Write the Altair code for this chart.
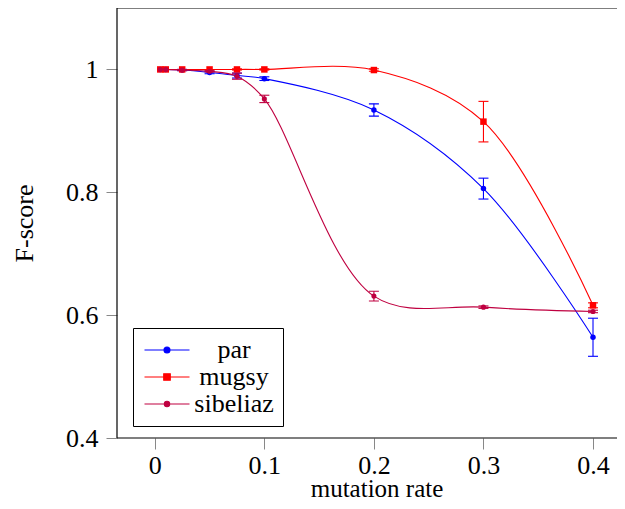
import altair as alt
import pandas as pd

# ---- data ----
rates = [0.005, 0.01, 0.025, 0.05, 0.075, 0.1, 0.2, 0.3, 0.4]
series = ["par", "mugsy", "sibeliaz"]
colors = ["#0000ff", "#ff0000", "#bf0040"]
par = [1.000, 1.000, 0.999, 0.995, 0.990, 0.985, 0.934, 0.806, 0.564]
par_err = [0.0, 0.0, 0.001, 0.002, 0.004, 0.003, 0.010, 0.017, 0.031]
mugsy = [1.000, 1.000, 1.000, 1.000, 1.000, 1.000, 0.999, 0.915, 0.616]
mugsy_err = [0.0, 0.0, 0.0, 0.0, 0.001, 0.001, 0.002, 0.033, 0.004]
sibeliaz = [1.000, 1.000, 0.999, 0.997, 0.989, 0.952, 0.631, 0.613, 0.606]
sibeliaz_err = [0.0, 0.0, 0.001, 0.001, 0.005, 0.006, 0.008, 0.002, 0.002]

values = {"par": par, "mugsy": mugsy, "sibeliaz": sibeliaz}
errors = {"par": par_err, "mugsy": mugsy_err, "sibeliaz": sibeliaz_err}
shapes = {"par": "circle", "mugsy": "square", "sibeliaz": "circle"}
sizes = {"par": 30, "mugsy": 42, "sibeliaz": 26}
legend_paths = [
    "M-7.5,0H7.5M-1,0A1,1,0,1,0,1,0A1,1,0,1,0,-1,0Z",
    "M-7.5,0H7.5M-1.1,-1.1H1.1V1.1H-1.1Z",
    "M-7.5,0H7.5M-0.9,0A0.9,0.9,0,1,0,0.9,0A0.9,0.9,0,1,0,-0.9,0Z",
]

rows = []
for s in series:
    for r, v, e in zip(rates, values[s], errors[s]):
        rows.append({"series": s, "rate": r, "value": v, "err": e,
                     "lo": v - e, "hi": v + e})
df = pd.DataFrame(rows)

FONT = "Liberation Serif"
FS = 26
W, H = 500, 430

xscale = alt.Scale(domain=[-0.0345, 0.4219], nice=False, zero=False)
yscale = alt.Scale(domain=[0.4, 1.1], nice=False, zero=False)

xaxis = alt.Axis(values=[0, 0.1, 0.2, 0.3, 0.4], format="~g", grid=False,
                 domain=False, tickColor="#888888", tickSize=11, tickWidth=1,
                 labelFont=FONT, labelFontSize=FS, labelColor="black",
                 labelPadding=3, labelFlush=False, labelOverlap=False,
                 title="mutation rate", titleFont=FONT, titleFontSize=25,
                 titleFontWeight="normal", titleColor="black",
                 titleX=259.5, titleY=58, titleBaseline="alphabetic",
                 titleAlign="center")
yaxis = alt.Axis(values=[0.4, 0.6, 0.8, 1.0], format="~g", grid=False,
                 domain=False, tickColor="#888888", tickSize=11, tickWidth=1,
                 labelFont=FONT, labelFontSize=FS, labelColor="black",
                 labelPadding=8, labelFlush=False, labelOverlap=False,
                 title="F-score", titleFont=FONT, titleFontSize=FS,
                 titleFontWeight="normal", titleColor="black",
                 titleX=-85, titleY=215, titleAngle=270,
                 titleBaseline="alphabetic", titleAlign="center")

base = alt.Chart(df)
X = alt.X("rate:Q", scale=xscale, axis=xaxis)
Y = alt.Y("value:Q", scale=yscale, axis=yaxis)

layers = []
for s, c in zip(series, colors):
    sub = base.transform_filter(alt.datum.series == s)
    line = sub.mark_line(interpolate="catmull-rom", strokeWidth=1.1,
                         color=c).encode(x=X, y=Y)
    rule = sub.transform_filter(alt.datum.err > 0).mark_rule(
        color=c, strokeWidth=1.1).encode(
        x=X, y=alt.Y("lo:Q", scale=yscale, axis=yaxis), y2="hi:Q")
    cap_lo = sub.transform_filter(alt.datum.err > 0).mark_tick(
        orient="horizontal", size=10, thickness=1.1, color=c,
        opacity=1).encode(x=X, y=alt.Y("lo:Q", scale=yscale, axis=yaxis))
    cap_hi = sub.transform_filter(alt.datum.err > 0).mark_tick(
        orient="horizontal", size=10, thickness=1.1, color=c,
        opacity=1).encode(x=X, y=alt.Y("hi:Q", scale=yscale, axis=yaxis))
    pts = sub.mark_point(filled=True, opacity=1, shape=shapes[s],
                         size=sizes[s], color=c, strokeWidth=0).encode(x=X, y=Y)
    layers += [line, rule, cap_lo, cap_hi, pts]

leg = alt.Legend(orient="none", legendX=16, legendY=320, title=None,
                 strokeColor="black", fillColor="white", padding=9,
                 cornerRadius=0, labelFont=FONT, labelFontSize=FS,
                 labelColor="black", labelAlign="center", labelOffset=54,
                 labelLimit=400, symbolOffset=12, symbolSize=36,
                 symbolStrokeWidth=1.1, rowPadding=1)

legend_layer = base.transform_filter(alt.datum.value < 0).mark_point(
    opacity=1, filled=False).encode(
    x=X, y=Y,
    fill=alt.Fill("series:N", scale=alt.Scale(domain=series, range=colors),
                  legend=leg),
    stroke=alt.Stroke("series:N", scale=alt.Scale(domain=series, range=colors),
                      legend=leg),
    shape=alt.Shape("series:N", scale=alt.Scale(domain=series,
                                                range=legend_paths),
                    legend=leg),
)

# plot frame (top, left, bottom; the right side lies beyond the picture)
frame_src = alt.Chart(pd.DataFrame({"k": [0]}))
frame_top = frame_src.mark_rule(color="black", strokeWidth=1.2).encode(
    x=alt.value(0), x2=alt.value(W), y=alt.value(0))
frame_bottom = frame_src.mark_rule(color="black", strokeWidth=1.2).encode(
    x=alt.value(0), x2=alt.value(W), y=alt.value(H))
frame_left = frame_src.mark_rule(color="black", strokeWidth=1.2).encode(
    x=alt.value(0), y=alt.value(0), y2=alt.value(H))

chart = alt.layer(*layers, legend_layer, frame_top, frame_bottom,
                  frame_left).properties(
    width=W, height=H,
    autosize=alt.AutoSizeParams(type="none"),
    padding={"left": 109, "top": 0, "right": 0, "bottom": 63},
).configure(font=FONT).configure_view(stroke=None)

chart.save("out.html", embed_options={"renderer": "svg", "actions": False})
